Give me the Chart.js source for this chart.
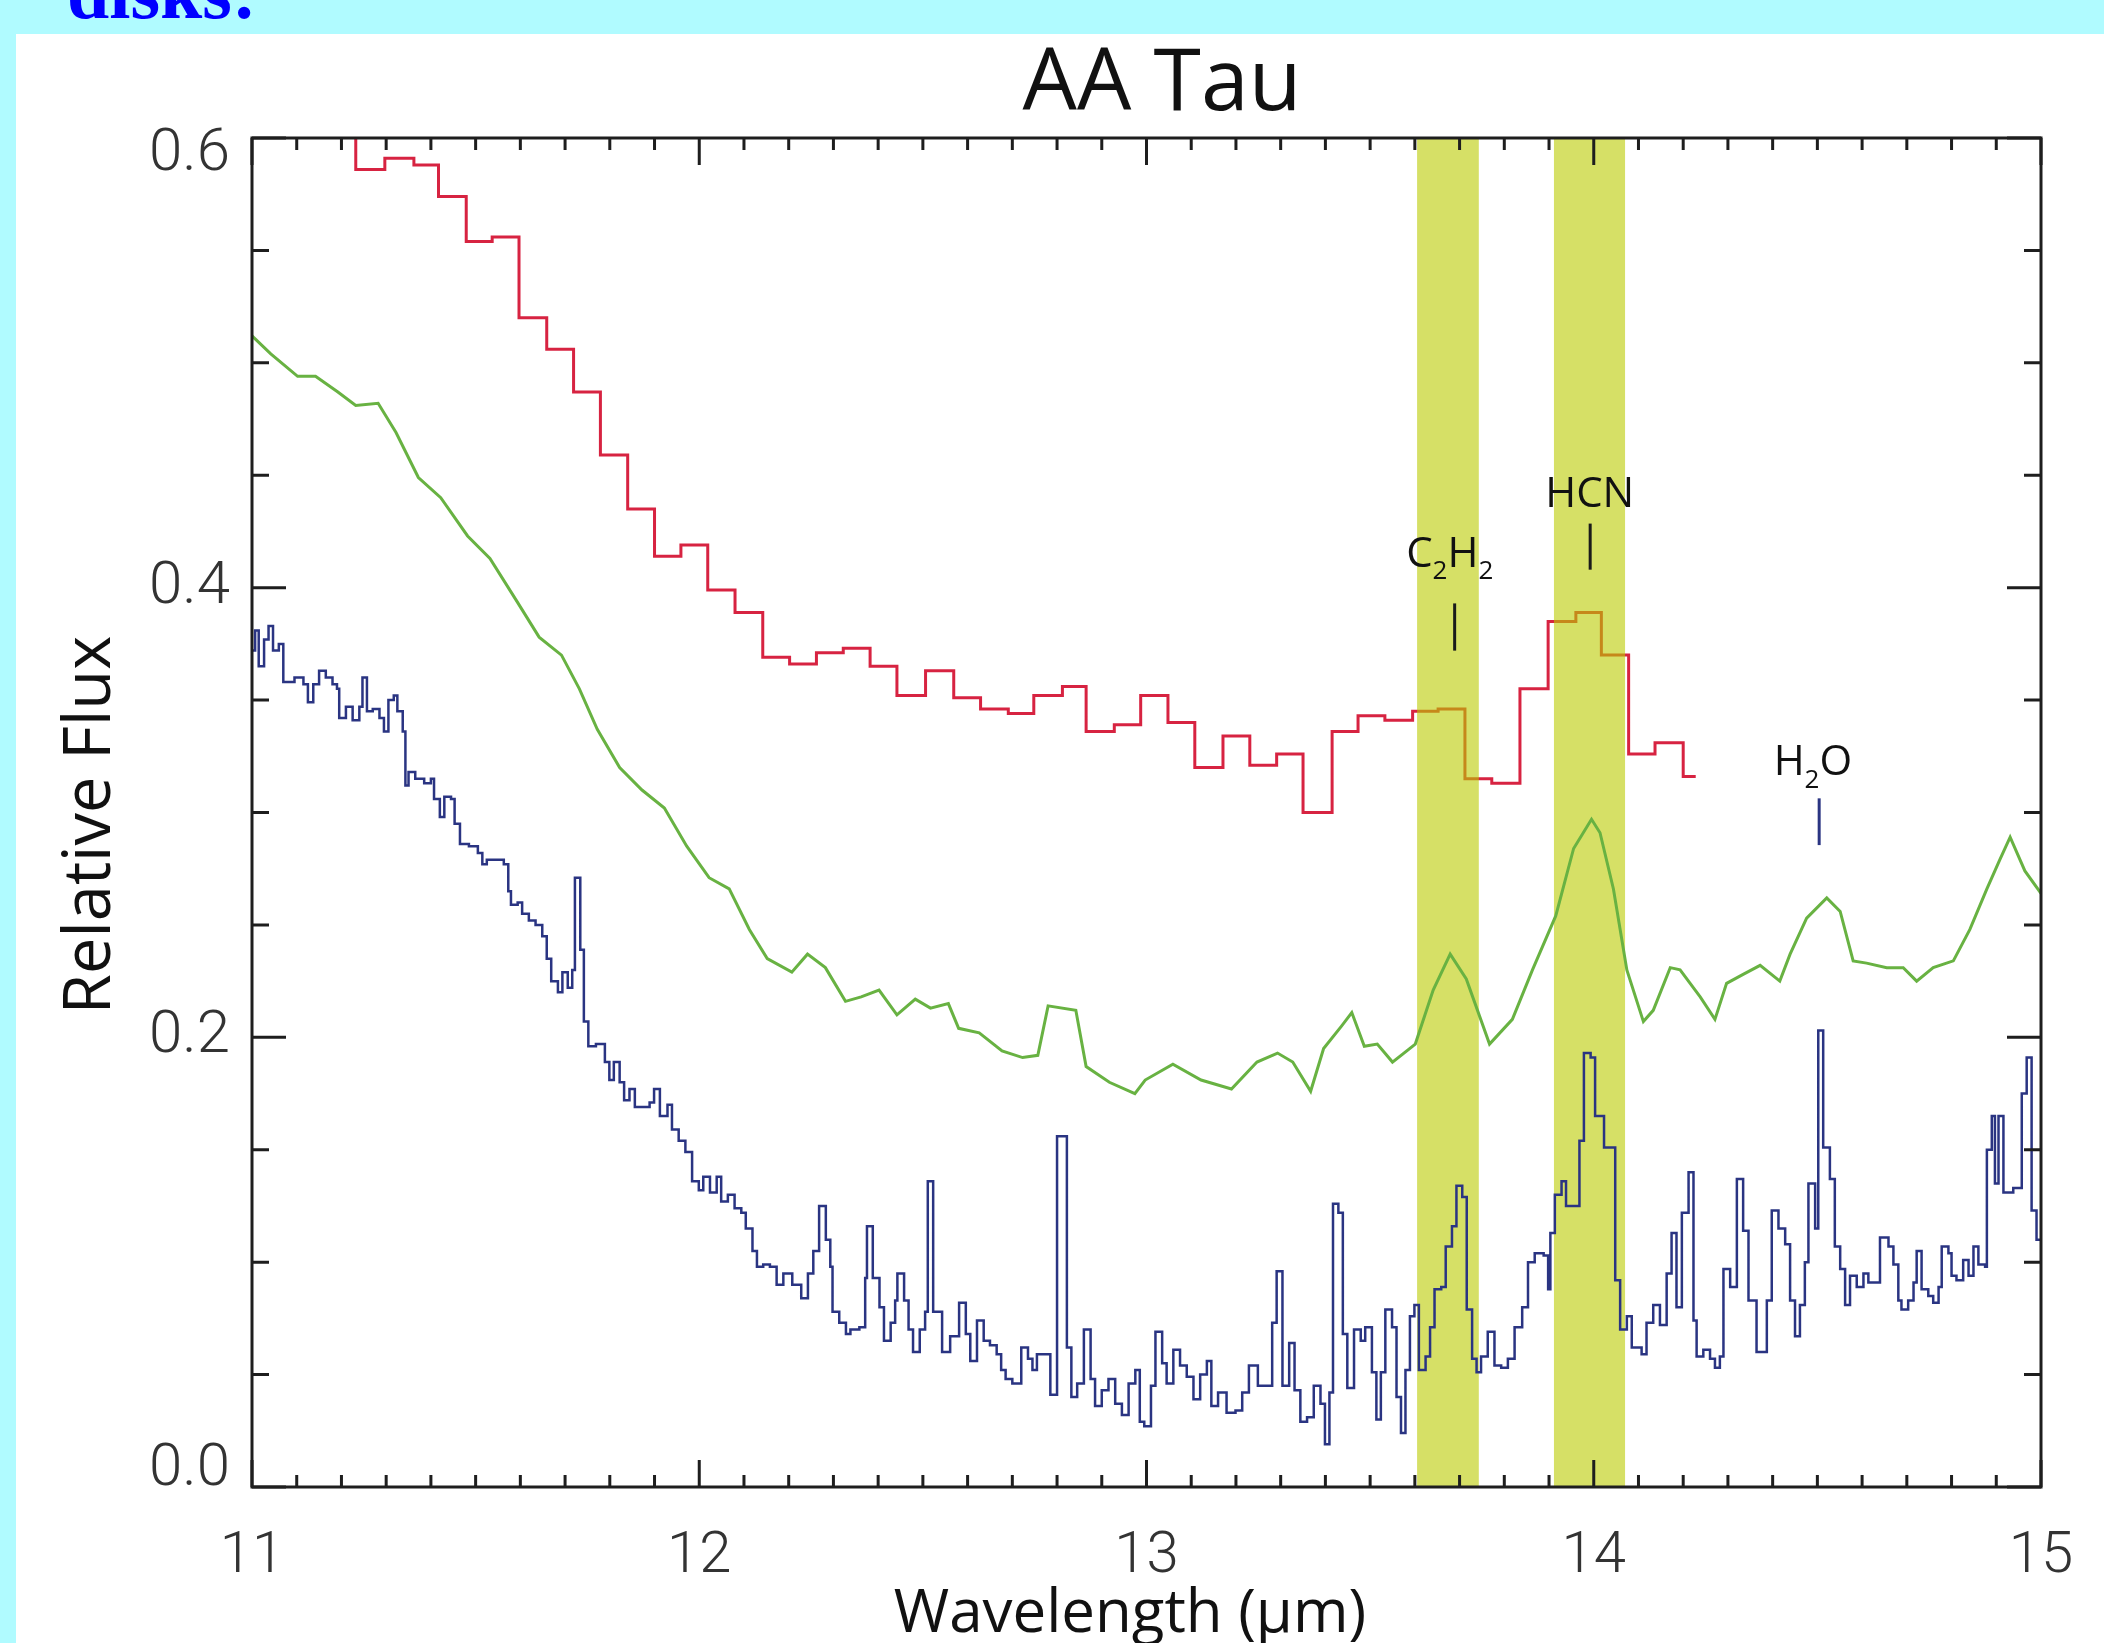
<!DOCTYPE html>
<html>
<head>
<meta charset="utf-8">
<title>AA Tau</title>
<script src="https://cdn.jsdelivr.net/npm/chart.js@4.4.1/dist/chart.umd.min.js"></script>
<style>
  html, body { margin: 0; padding: 0; }
  body { width: 2104px; height: 1643px; background: #b0fbff; position: relative; overflow: hidden; }
  #panel { position: absolute; left: 16px; top: 34px; right: 0; bottom: 0; background: #fff; }
  #heading { position: absolute; left: 67px; top: -51px; margin: 0; line-height: 1;
             font: bold 76px "Liberation Serif", "Times New Roman", serif; color: #0000ff; }
  #wrap { position: absolute; left: 0; top: 0; width: 2104px; height: 1643px; }
</style>
</head>
<body>
<div id="panel"></div>
<div id="heading">disks:</div>
<div id="wrap"><canvas id="myChart"></canvas></div>
<script>
// low resolution spectrum (red), binned to ~0.06 um
var redWave = [11.170, 11.232, 11.297, 11.362, 11.417, 11.479, 11.537, 11.597, 11.659, 11.719,
  11.779, 11.840, 11.900, 11.959, 12.019, 12.080, 12.142, 12.202, 12.262, 12.322,
  12.382, 12.442, 12.506, 12.569, 12.629, 12.691, 12.748, 12.812, 12.865, 12.928,
  12.987, 13.048, 13.108, 13.171, 13.231, 13.291, 13.350, 13.415, 13.473, 13.533,
  13.595, 13.652, 13.712, 13.772, 13.835, 13.898, 13.960, 14.017, 14.078, 14.137,
  14.200, 14.228];
var redFlux = [0.610, 0.586, 0.591, 0.588, 0.574, 0.554, 0.556, 0.520, 0.506, 0.487,
  0.459, 0.435, 0.414, 0.419, 0.399, 0.389, 0.369, 0.366, 0.371, 0.373,
  0.365, 0.352, 0.363, 0.351, 0.346, 0.344, 0.352, 0.356, 0.336, 0.339,
  0.352, 0.340, 0.320, 0.334, 0.321, 0.326, 0.300, 0.336, 0.343, 0.341,
  0.345, 0.346, 0.315, 0.313, 0.355, 0.385, 0.389, 0.370, 0.326, 0.331,
  0.316, 0.316];

// smoothed spectrum (green)
var greenWave = [11.000, 11.042, 11.102, 11.142, 11.192, 11.232, 11.282, 11.322, 11.372, 11.422,
  11.482, 11.532, 11.592, 11.642, 11.692, 11.732, 11.772, 11.822, 11.872, 11.922,
  11.972, 12.022, 12.067, 12.112, 12.152, 12.207, 12.242, 12.282, 12.327, 12.362,
  12.402, 12.442, 12.483, 12.517, 12.557, 12.580, 12.626, 12.677, 12.723, 12.757,
  12.780, 12.842, 12.865, 12.917, 12.974, 12.997, 13.059, 13.122, 13.190, 13.247,
  13.293, 13.327, 13.367, 13.396, 13.436, 13.459, 13.487, 13.516, 13.550, 13.601,
  13.641, 13.679, 13.715, 13.767, 13.818, 13.863, 13.915, 13.955, 13.995, 14.014,
  14.044, 14.074, 14.111, 14.133, 14.171, 14.193, 14.238, 14.271, 14.297, 14.334,
  14.372, 14.416, 14.439, 14.476, 14.521, 14.551, 14.580, 14.610, 14.655, 14.692,
  14.722, 14.759, 14.804, 14.841, 14.879, 14.908, 14.931, 14.964, 15.000];
var greenFlux = [0.512, 0.504, 0.494, 0.494, 0.487, 0.481, 0.482, 0.469, 0.449, 0.440,
  0.423, 0.413, 0.394, 0.378, 0.370, 0.355, 0.337, 0.320, 0.310, 0.302,
  0.285, 0.271, 0.266, 0.248, 0.235, 0.229, 0.237, 0.231, 0.216, 0.218,
  0.221, 0.210, 0.217, 0.213, 0.215, 0.204, 0.202, 0.194, 0.191, 0.192,
  0.214, 0.212, 0.187, 0.180, 0.175, 0.181, 0.188, 0.181, 0.177, 0.189,
  0.193, 0.189, 0.176, 0.195, 0.205, 0.211, 0.196, 0.197, 0.189, 0.197,
  0.221, 0.237, 0.226, 0.197, 0.208, 0.230, 0.254, 0.284, 0.297, 0.291,
  0.266, 0.230, 0.207, 0.212, 0.231, 0.230, 0.218, 0.208, 0.224, 0.228,
  0.232, 0.225, 0.237, 0.253, 0.262, 0.256, 0.234, 0.233, 0.231, 0.231,
  0.225, 0.231, 0.234, 0.248, 0.266, 0.279, 0.289, 0.274, 0.264];

// high resolution spectrum (blue)
var blueWave = [
  11.000, 11.007, 11.015, 11.027, 11.037, 11.047, 11.060, 11.070, 11.095, 11.115,
  11.125, 11.137, 11.150, 11.165, 11.180, 11.190, 11.195, 11.210, 11.225, 11.240,
  11.247, 11.257, 11.270, 11.285, 11.295, 11.305, 11.317, 11.325, 11.337, 11.343,
  11.350, 11.365, 11.385, 11.400, 11.407, 11.420, 11.430, 11.445, 11.453, 11.465,
  11.485, 11.505, 11.515, 11.525, 11.545, 11.563, 11.573, 11.579, 11.594, 11.604,
  11.619, 11.634, 11.649, 11.659, 11.669, 11.684, 11.694, 11.706, 11.716, 11.722,
  11.734, 11.742, 11.752, 11.769, 11.789, 11.799, 11.809, 11.822, 11.832, 11.844,
  11.856, 11.874, 11.889, 11.899, 11.912, 11.929, 11.939, 11.954, 11.969, 11.984,
  11.999, 12.009, 12.024, 12.039, 12.049, 12.064, 12.079, 12.094, 12.104, 12.119,
  12.129, 12.143, 12.158, 12.173, 12.188, 12.208, 12.228, 12.243, 12.255, 12.268,
  12.283, 12.293, 12.298, 12.313, 12.328, 12.338, 12.358, 12.371, 12.375, 12.388,
  12.403, 12.413, 12.428, 12.438, 12.443, 12.458, 12.468, 12.478, 12.493, 12.505,
  12.511, 12.523, 12.543, 12.561, 12.581, 12.596, 12.606, 12.621, 12.636, 12.650,
  12.665, 12.675, 12.685, 12.700, 12.720, 12.735, 12.745, 12.755, 12.785, 12.800,
  12.822, 12.832, 12.845, 12.860, 12.875, 12.885, 12.900, 12.915, 12.930, 12.945,
  12.960, 12.975, 12.985, 12.995, 13.010, 13.020, 13.035, 13.045, 13.060, 13.075,
  13.090, 13.105, 13.120, 13.135, 13.145, 13.160, 13.179, 13.199, 13.214, 13.229,
  13.249, 13.281, 13.291, 13.304, 13.319, 13.331, 13.344, 13.359, 13.374, 13.389,
  13.399, 13.409, 13.417, 13.429, 13.439, 13.449, 13.464, 13.479, 13.489, 13.504,
  13.514, 13.524, 13.534, 13.549, 13.559, 13.569, 13.579, 13.589, 13.599, 13.609,
  13.624, 13.634, 13.644, 13.659, 13.669, 13.683, 13.693, 13.706, 13.716, 13.728,
  13.738, 13.748, 13.763, 13.778, 13.793, 13.808, 13.823, 13.840, 13.853, 13.868,
  13.888, 13.898, 13.903, 13.913, 13.928, 13.938, 13.968, 13.978, 13.993, 14.003,
  14.023, 14.048, 14.059, 14.074, 14.085, 14.107, 14.118, 14.133, 14.148, 14.163,
  14.174, 14.185, 14.197, 14.212, 14.223, 14.230, 14.245, 14.260, 14.271, 14.282,
  14.290, 14.305, 14.320, 14.334, 14.346, 14.364, 14.387, 14.398, 14.413, 14.428,
  14.439, 14.450, 14.461, 14.472, 14.480, 14.495, 14.502, 14.513, 14.528, 14.539,
  14.551, 14.562, 14.573, 14.588, 14.603, 14.614, 14.629, 14.640, 14.659, 14.670,
  14.681, 14.688, 14.703, 14.715, 14.722, 14.733, 14.748, 14.759, 14.771, 14.778,
  14.793, 14.800, 14.811, 14.826, 14.838, 14.849, 14.860, 14.875, 14.879, 14.890,
  14.897, 14.905, 14.916, 14.938, 14.957, 14.968, 14.979, 14.990, 15.000];
var blueFlux = [
  0.372, 0.381, 0.365, 0.377, 0.383, 0.372, 0.375, 0.358, 0.360, 0.357,
  0.349, 0.357, 0.363, 0.360, 0.357, 0.355, 0.342, 0.347, 0.341, 0.347,
  0.360, 0.345, 0.346, 0.342, 0.336, 0.350, 0.352, 0.345, 0.336, 0.312,
  0.318, 0.315, 0.313, 0.315, 0.306, 0.298, 0.307, 0.306, 0.295, 0.286,
  0.285, 0.282, 0.277, 0.279, 0.279, 0.277, 0.265, 0.259, 0.260, 0.255,
  0.252, 0.250, 0.245, 0.235, 0.225, 0.220, 0.229, 0.222, 0.230, 0.271,
  0.239, 0.207, 0.196, 0.197, 0.189, 0.181, 0.189, 0.180, 0.172, 0.177,
  0.169, 0.169, 0.171, 0.177, 0.165, 0.170, 0.159, 0.154, 0.149, 0.136,
  0.132, 0.138, 0.131, 0.138, 0.127, 0.130, 0.124, 0.122, 0.115, 0.105,
  0.098, 0.099, 0.098, 0.090, 0.095, 0.090, 0.084, 0.095, 0.105, 0.125,
  0.110, 0.098, 0.078, 0.073, 0.068, 0.070, 0.071, 0.093, 0.116, 0.093,
  0.080, 0.065, 0.073, 0.083, 0.095, 0.083, 0.070, 0.060, 0.070, 0.078,
  0.136, 0.078, 0.060, 0.067, 0.082, 0.068, 0.056, 0.074, 0.065, 0.063,
  0.059, 0.052, 0.048, 0.046, 0.062, 0.057, 0.052, 0.059, 0.041, 0.156,
  0.062, 0.040, 0.046, 0.070, 0.048, 0.036, 0.043, 0.048, 0.037, 0.032,
  0.046, 0.052, 0.029, 0.027, 0.045, 0.069, 0.055, 0.046, 0.061, 0.054,
  0.049, 0.039, 0.050, 0.056, 0.036, 0.042, 0.033, 0.034, 0.042, 0.054,
  0.045, 0.073, 0.096, 0.045, 0.064, 0.043, 0.029, 0.031, 0.045, 0.037,
  0.019, 0.042, 0.126, 0.122, 0.068, 0.044, 0.070, 0.065, 0.071, 0.051,
  0.030, 0.051, 0.079, 0.071, 0.040, 0.024, 0.052, 0.076, 0.081, 0.052,
  0.058, 0.071, 0.088, 0.089, 0.107, 0.116, 0.134, 0.129, 0.079, 0.057,
  0.051, 0.058, 0.069, 0.054, 0.053, 0.057, 0.071, 0.080, 0.100, 0.104,
  0.103, 0.088, 0.113, 0.130, 0.136, 0.125, 0.154, 0.193, 0.191, 0.165,
  0.151, 0.092, 0.070, 0.076, 0.062, 0.059, 0.073, 0.081, 0.072, 0.095,
  0.113, 0.080, 0.122, 0.140, 0.074, 0.058, 0.061, 0.057, 0.053, 0.058,
  0.097, 0.089, 0.137, 0.114, 0.083, 0.060, 0.083, 0.123, 0.115, 0.108,
  0.083, 0.067, 0.081, 0.100, 0.135, 0.115, 0.203, 0.151, 0.137, 0.107,
  0.097, 0.081, 0.094, 0.089, 0.095, 0.091, 0.091, 0.111, 0.107, 0.099,
  0.083, 0.079, 0.083, 0.091, 0.105, 0.088, 0.085, 0.082, 0.089, 0.107,
  0.104, 0.094, 0.092, 0.101, 0.094, 0.107, 0.099, 0.098, 0.150, 0.165,
  0.135, 0.165, 0.131, 0.133, 0.175, 0.191, 0.123, 0.110, 0.110];

// shaded bands (um)
var bandStart = [13.605, 13.911];
var bandEnd = [13.743, 14.070];

// molecule labels and their marker positions
var lineNames = ['C2H2', 'HCN', 'H2O'];
var lineWave = [13.689, 13.992, 14.504];
var lineLow = [0.372, 0.408, 0.2855];
var lineHigh = [0.393, 0.4285, 0.3063];

var xTickLabels = ['11', '12', '13', '14', '15'];
// end labels sit a little inside the frame, as in the original figure
var yTickLabels = [['0.0', ''], '0.2', '0.4', ['', '0.6']];

function toPoints(xs, ys) {
  return xs.map(function(x, i) { return { x: x, y: ys[i] }; });
}

function drawFormula(ctx, text, cx, baseY, size) {
  var big = size + 'px "Open Sans", sans-serif';
  var small = Math.round(size * 0.62) + 'px "Open Sans", sans-serif';
  var parts = text.split('');
  var w = 0;
  parts.forEach(function(c) {
    ctx.font = /[0-9]/.test(c) ? small : big;
    w += ctx.measureText(c).width;
  });
  var x = cx - w / 2;
  ctx.textAlign = 'left';
  ctx.textBaseline = 'alphabetic';
  parts.forEach(function(c) {
    var sub = /[0-9]/.test(c);
    ctx.font = sub ? small : big;
    ctx.fillText(c, x, sub ? baseY + size * 0.3 : baseY);
    x += ctx.measureText(c).width;
  });
}

var decorations = {
  id: 'decorations',
  afterDatasetDraw: function(chart, args) {
    // bands go over the red spectrum only
    if (chart.data.datasets[args.index].label !== 'red') return;
    var ctx = chart.ctx, a = chart.chartArea, xs = chart.scales.x;
    ctx.save();
    ctx.fillStyle = 'rgba(187, 203, 0, 0.6)';
    for (var i = 0; i < bandStart.length; i++) {
      var x0 = xs.getPixelForValue(bandStart[i]);
      var x1 = xs.getPixelForValue(bandEnd[i]);
      ctx.fillRect(x0, a.top, x1 - x0, a.bottom - a.top);
    }
    ctx.restore();
  },
  afterDraw: function(chart) {
    var ctx = chart.ctx, a = chart.chartArea;
    var xs = chart.scales.x, ys = chart.scales.y;
    var k, v, p, len;
    ctx.save();
    ctx.strokeStyle = '#1e1e1e';
    ctx.lineWidth = 3;
    ctx.strokeRect(a.left, a.top, a.right - a.left, a.bottom - a.top);

    // inward ticks on all four sides
    ctx.beginPath();
    for (k = 0; k <= 40; k++) {
      v = 11 + k / 10;
      p = xs.getPixelForValue(v);
      len = k % 10 === 0 ? 27 : 12;
      ctx.moveTo(p, a.bottom); ctx.lineTo(p, a.bottom - len);
      ctx.moveTo(p, a.top); ctx.lineTo(p, a.top + len);
    }
    for (k = 0; k <= 12; k++) {
      v = k * 0.05;
      p = ys.getPixelForValue(v);
      len = k % 4 === 0 ? 34 : 17;
      ctx.moveTo(a.left, p); ctx.lineTo(a.left + len, p);
      ctx.moveTo(a.right, p); ctx.lineTo(a.right - len, p);
    }
    ctx.stroke();

    // molecule markers
    var labelWave = [13.678, 13.991, 14.490];
    var labelBase = [0.4093, 0.4359, 0.3167];
    var markColor = ['#1a1a1a', '#1a1a1a', '#2a3482'];
    for (k = 0; k < lineNames.length; k++) {
      ctx.strokeStyle = markColor[k];
      ctx.lineWidth = 3;
      ctx.beginPath();
      p = xs.getPixelForValue(lineWave[k]);
      ctx.moveTo(p, ys.getPixelForValue(lineLow[k]));
      ctx.lineTo(p, ys.getPixelForValue(lineHigh[k]));
      ctx.stroke();
      ctx.fillStyle = '#111';
      drawFormula(ctx, lineNames[k], xs.getPixelForValue(labelWave[k]), ys.getPixelForValue(labelBase[k]), 42);
    }

    // titles
    ctx.fillStyle = '#111';
    ctx.textAlign = 'center';
    ctx.textBaseline = 'alphabetic';
    ctx.font = '500 86px "Open Sans", sans-serif';
    ctx.fillText('AA Tau', 1162, 110);
    ctx.font = '500 60px "Open Sans", sans-serif';
    ctx.fillText('Wavelength (\u03bcm)', 1130, 1632);
    ctx.translate(91, 825);
    ctx.rotate(-Math.PI / 2);
    ctx.textBaseline = 'middle';
    ctx.font = '500 65px "Open Sans", sans-serif';
    ctx.fillText('Relative Flux', 0, 0);
    ctx.restore();
  }
};

var ctx = document.getElementById('myChart').getContext('2d');
var chart = new Chart(ctx, {
  type: 'line',
  data: {
    datasets: [{
      label: 'blue',
      data: toPoints(blueWave, blueFlux),
      borderColor: '#2a3482',
      borderWidth: 2.5,
      stepped: true,
      pointRadius: 0
    }, {
      label: 'green',
      data: toPoints(greenWave, greenFlux),
      borderColor: '#68b242',
      borderWidth: 3,
      tension: 0,
      pointRadius: 0
    }, {
      label: 'red',
      data: toPoints(redWave, redFlux),
      borderColor: '#d72341',
      borderWidth: 3,
      stepped: true,
      pointRadius: 0
    }]
  },
  options: {
    responsive: true,
    maintainAspectRatio: false,
    animation: false,
    layout: { padding: { left: 0, right: 63, top: 138, bottom: 0 } },
    plugins: {
      legend: { display: false },
      tooltip: { enabled: false },
      title: { display: false }
    },
    scales: {
      x: {
        type: 'linear',
        min: 11,
        max: 15,
        border: { display: false },
        grid: { display: false, drawTicks: false },
        ticks: {
          stepSize: 1,
          padding: 36,
          autoSkip: false,
          maxRotation: 0,
          color: '#333',
          font: { family: 'Roboto', size: 58, weight: '300' },
          callback: function(v) { return xTickLabels[Math.round(v) - 11]; }
        },
        afterFit: function(s) { s.height = 156; s.paddingLeft = 0; s.paddingRight = 0; }
      },
      y: {
        type: 'linear',
        min: 0,
        max: 0.6,
        border: { display: false },
        grid: { display: false, drawTicks: false },
        ticks: {
          stepSize: 0.2,
          padding: 22,
          autoSkip: false,
          color: '#333',
          font: { family: 'Roboto', size: 60, weight: '300', lineHeight: 0.58 },
          callback: function(v) { return yTickLabels[Math.round(v / 0.2)]; }
        },
        afterFit: function(s) { s.width = 252; s.paddingTop = 0; s.paddingBottom = 0; }
      }
    }
  },
  plugins: [decorations]
});
</script>
</body>
</html>
